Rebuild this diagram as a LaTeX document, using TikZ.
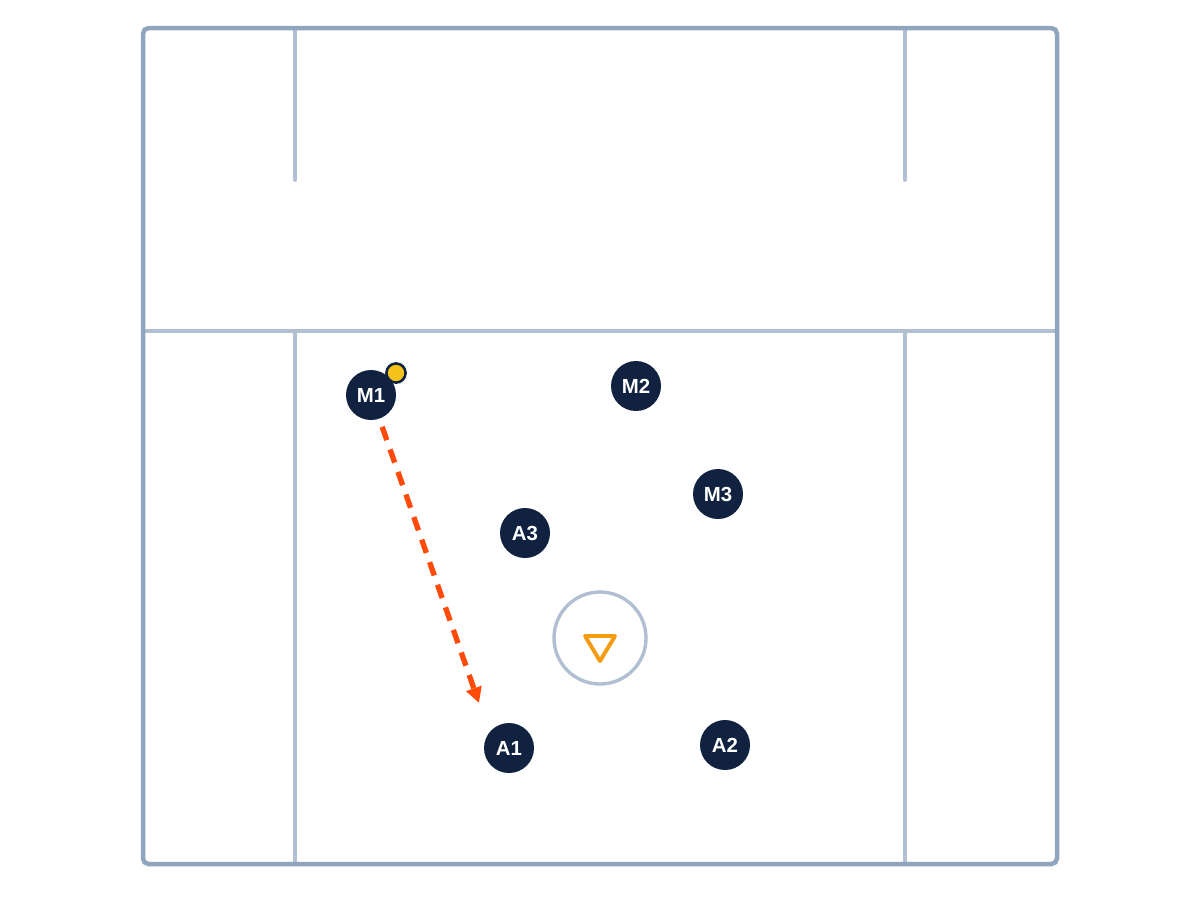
\documentclass[tikz,border=0pt]{standalone}
\usepackage{fontspec}
\setsansfont{Liberation Sans}
\usetikzlibrary{arrows.meta}
\definecolor{fieldout}{HTML}{8FA4BD}
\definecolor{fieldin}{HTML}{B0BFD2}
\definecolor{navy}{HTML}{10223F}
\definecolor{ballyel}{HTML}{F5C21B}
\definecolor{runred}{HTML}{FF4A0A}
\definecolor{goalor}{HTML}{F39C12}
\tikzset{
  player/.style={circle,fill=navy,minimum size=1.25cm,inner sep=0pt,text=white,font=\sffamily\bfseries\fontsize{14.5}{14.5}\selectfont},
  outline/.style={draw=fieldout,line width=3.2pt,rounded corners=4pt},
  inline/.style={draw=fieldin,line width=2.6pt,line cap=round},
  runarrow/.style={draw=runred,line width=3.8pt,dash pattern=on 10pt off 7pt,-{Triangle[length=11pt,width=11pt]}}
}
\begin{document}
\begin{tikzpicture}[x=0.025cm,y=-0.025cm]
  \useasboundingbox (0,0) rectangle (1200,896);
  % field lines
  \draw[inline] (143,331)--(1057,331);
  \draw[inline] (295,28)--(295,180);
  \draw[inline] (905,28)--(905,180);
  \draw[inline] (295,331)--(295,864);
  \draw[inline] (905,331)--(905,864);
  \draw[outline] (143,28) rectangle (1057,864);
  % goal
  \node[circle,draw=fieldin,line width=2.4pt,minimum size=2.3cm] (crease) at (600,638) {};
  \draw[goalor,line width=2.8pt,line join=round] (585,636)--(615,636)--(600,661)--cycle;
  % players
  \node[player] (m1) at (371,395) {M1};
  \node[player] (m2) at (636,386) {M2};
  \node[player] (m3) at (718,494) {M3};
  \node[player] (a3) at (525,533) {A3};
  \node[player] (a1) at (509,748) {A1};
  \node[player] (a2) at (725,745) {A2};
  \node[circle,fill=ballyel,draw=navy,line width=1.8pt,minimum size=0.48cm,inner sep=0pt] (ball) at (396,373) {};
  % run
  \coordinate (runend) at (479,703);
  \draw[runarrow,shorten <=6pt] (m1)--(runend);
\end{tikzpicture}
\end{document}
